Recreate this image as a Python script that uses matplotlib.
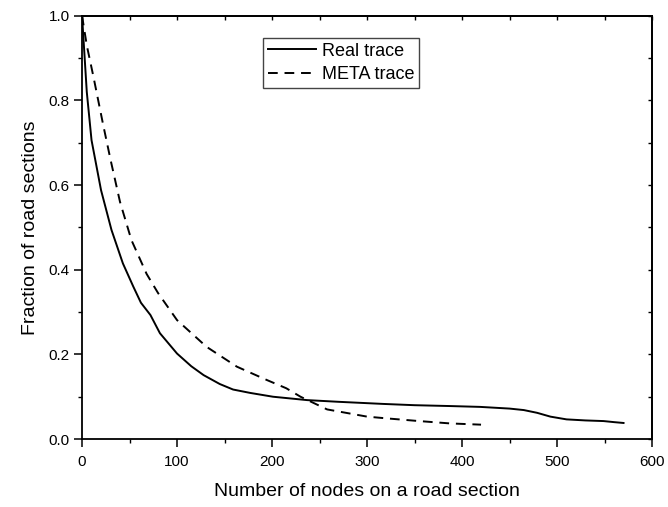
import matplotlib
matplotlib.use("Agg")
import matplotlib.pyplot as plt
from matplotlib.ticker import MultipleLocator, FormatStrFormatter

plt.rcParams['font.family'] = ['Liberation Sans', 'DejaVu Sans']

# real trace
real_x = [0, 5, 10, 20, 31, 43, 54, 62, 72, 82, 100, 115, 128, 145, 159, 177, 201,
          237, 270, 317, 350, 387, 419, 450, 465, 479, 493, 510, 530, 549, 560, 570]
real_y = [1.0, 0.82, 0.706, 0.588, 0.494, 0.415, 0.36, 0.322, 0.293, 0.25, 0.202,
          0.172, 0.151, 0.13, 0.117, 0.109, 0.100, 0.092, 0.088, 0.083, 0.080,
          0.078, 0.076, 0.072, 0.0685, 0.062, 0.053, 0.0465, 0.044, 0.0425, 0.040, 0.038]

# META trace
meta_x = [0, 5, 12, 22, 30, 40, 52, 68, 80, 100, 131, 163, 194, 215, 230, 258,
          300, 320, 352, 387, 420]
meta_y = [1.0, 0.93, 0.856, 0.745, 0.66, 0.56, 0.47, 0.39, 0.345, 0.281, 0.218,
          0.171, 0.140, 0.120, 0.100, 0.070, 0.053, 0.049, 0.043, 0.037, 0.034]

fig = plt.figure(figsize=(6.68, 5.07), dpi=100)
ax = fig.add_axes([0.1228, 0.134, 0.8533, 0.835])

ax.plot(real_x, real_y, color='black', lw=1.4, label='Real trace')
ax.plot(meta_x, meta_y, color='black', lw=1.4, dashes=(5.0, 3.5), label='META trace')

ax.set_xlim(0, 600)
ax.set_ylim(0, 1.0)
ax.xaxis.set_major_locator(MultipleLocator(100))
ax.xaxis.set_minor_locator(MultipleLocator(50))
ax.yaxis.set_major_locator(MultipleLocator(0.2))
ax.yaxis.set_minor_locator(MultipleLocator(0.1))
ax.yaxis.set_major_formatter(FormatStrFormatter('%.1f'))

for s in ax.spines.values():
    s.set_linewidth(1.3)

ax.tick_params(which='major', direction='out', length=5.5, width=1.1, labelsize=11)
ax.tick_params(which='minor', direction='out', length=3, width=1.0)
ax.tick_params(axis='x', pad=6)
ax.tick_params(axis='y', pad=3.5)

# top and right axes, inward ticks without labels
top = ax.secondary_xaxis('top')
top.xaxis.set_major_locator(MultipleLocator(100))
top.xaxis.set_minor_locator(MultipleLocator(50))
top.tick_params(which='both', direction='in', length=3, width=1.0, labeltop=False)
right = ax.secondary_yaxis('right')
right.yaxis.set_major_locator(MultipleLocator(0.2))
right.yaxis.set_minor_locator(MultipleLocator(0.1))
right.tick_params(which='both', direction='in', length=3, width=1.0, labelright=False)
for sec in (top, right):
    for s in sec.spines.values():
        s.set_linewidth(1.3)

ax.set_xlabel('Number of nodes on a road section', fontsize=14, labelpad=10)
ax.set_ylabel('Fraction of road sections', fontsize=14, labelpad=7)

leg = ax.legend(loc='upper left', bbox_to_anchor=(0.3175, 0.947), borderaxespad=0,
                fontsize=13, frameon=True, fancybox=False, framealpha=1,
                edgecolor='#444444', handlelength=2.7, handletextpad=0.3,
                borderpad=0.25, labelspacing=0.35)
leg.get_frame().set_linewidth(1.0)

plt.savefig('out.png', dpi=100)
